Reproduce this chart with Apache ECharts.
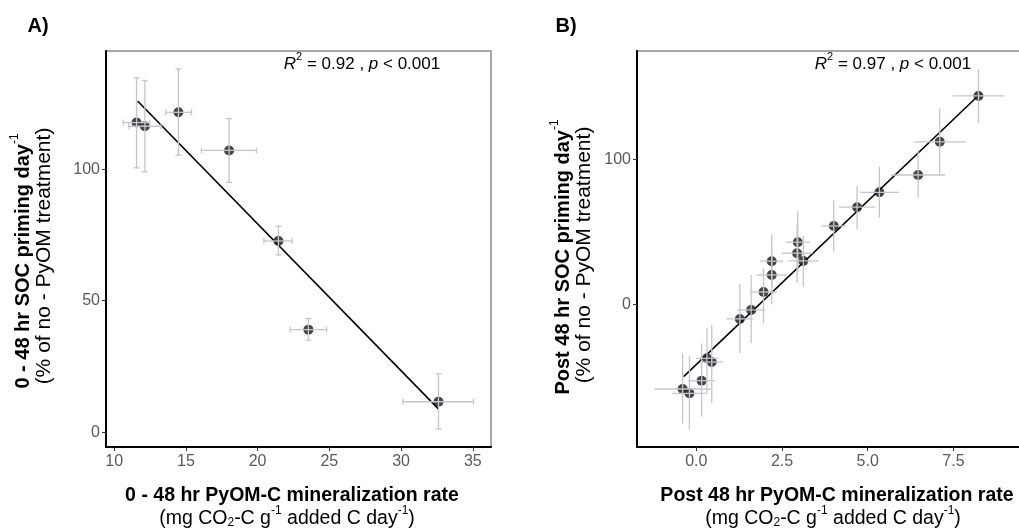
<!DOCTYPE html>
<html>
<head>
<meta charset="utf-8">
<script src="https://cdn.jsdelivr.net/npm/echarts@6/dist/echarts.min.js"></script>
<style>
html,body{margin:0;padding:0;overflow:hidden;background:#fff;}
#chart{width:1030px;height:529px;}
</style>
</head>
<body>
<div id="chart"></div>
<script>
// ---------- Panel A data ----------
const xA    = [11.56, 12.14, 14.48, 18.01, 21.45, 23.54, 32.61];
const yA    = [117.7, 116.3, 121.6, 107.1, 72.7, 39.0, 11.6];
const xLoA  = [10.63, 11.01, 13.60, 16.08, 20.44, 22.26, 30.13];
const xHiA  = [12.49, 13.27, 15.39, 19.92, 22.40, 24.81, 35.05];
const yLoA  = [100.5, 99.0, 105.3, 95.0, 67.4, 35.0, 1.3];
const yHiA  = [134.7, 133.7, 138.1, 119.2, 78.3, 43.2, 22.2];
const fitXA = [11.63, 32.6];
const fitYA = [125.9, 8.9];
const xTicksA = [10, 15, 20, 25, 30, 35];
const yTicksA = [0, 50, 100];

// ---------- Panel B data ----------
const xB    = [-0.40, -0.20, 0.155, 0.31, 0.45, 1.27, 1.60, 1.96, 2.20, 2.20, 2.94, 2.96, 3.12, 4.01, 4.69, 5.34, 6.47, 7.10, 8.23];
const yB    = [-58.4, -61.4, -52.7, -37.3, -39.8, -10.1, -3.9, 8.5, 20.2, 29.7, 35.2, 42.8, 29.9, 54.0, 66.9, 77.2, 89.1, 112.0, 143.6];
const xLoB  = [-1.22, -0.70, -0.23, -0.01, 0.12, 0.88, 1.20, 1.57, 1.76, 1.86, 2.49, 2.61, 2.68, 3.65, 4.16, 4.77, 5.68, 6.35, 7.48];
const xHiB  = [0.42, 0.30, 0.54, 0.63, 0.78, 1.66, 2.00, 2.35, 2.64, 2.54, 3.39, 3.31, 3.56, 4.37, 5.22, 5.91, 7.26, 7.85, 8.98];
const yLoB  = [-82.1, -86.5, -77.5, -61.4, -68.0, -33.8, -26.9, -13.1, 0.0, 11.0, 15.0, 22.0, 12.1, 36.3, 51.7, 59.7, 73.1, 89.2, 124.8];
const yHiB  = [-33.8, -36.0, -27.0, -16.6, -14.3, 14.0, 20.2, 24.8, 38.0, 48.3, 55.0, 64.3, 47.0, 71.9, 81.6, 94.9, 106.4, 135.2, 162.1];
const fitXB = [-0.37, 8.23];
const fitYB = [-49.9, 143.9];
const xTicksB = [0, 2.5, 5, 7.5];
const yTicksB = [0, 100];

// ---------- Text ----------
const panelLabels = ['A)', 'B)'];
const statsA = ['0.92', '0.001'];
const statsB = ['0.97', '0.001'];
const yTitleA = '0 - 48 hr SOC priming day';
const yTitleB = 'Post 48 hr SOC priming day';
const yTitle2 = '(% of no - PyOM treatment)';
const xTitleA = '0 - 48 hr PyOM-C mineralization rate';
const xTitleB = 'Post 48 hr PyOM-C mineralization rate';

const FONT = '"Liberation Sans", Arial, sans-serif';
const ERR = '#c5c5cd';

function pts(xs, ys) { return xs.map((x, i) => [x, ys[i]]); }
function errData(xs, ys, xl, xh, yl, yh) { return xs.map((x, i) => [x, ys[i], xl[i], xh[i], yl[i], yh[i]]); }

function errRender(cap) {
  return function (params, api) {
    const x = api.value(0), y = api.value(1);
    const c = api.coord([x, y]);
    const l = api.coord([api.value(2), y]);
    const r = api.coord([api.value(3), y]);
    const b = api.coord([x, api.value(4)]);
    const t = api.coord([x, api.value(5)]);
    const st = { stroke: ERR, lineWidth: 1.3 };
    const ch = [
      { type: 'line', shape: { x1: l[0], y1: c[1], x2: r[0], y2: c[1] }, style: st },
      { type: 'line', shape: { x1: c[0], y1: t[1], x2: c[0], y2: b[1] }, style: st }
    ];
    if (cap > 0) {
      ch.push({ type: 'line', shape: { x1: l[0], y1: c[1] - cap, x2: l[0], y2: c[1] + cap }, style: st });
      ch.push({ type: 'line', shape: { x1: r[0], y1: c[1] - cap, x2: r[0], y2: c[1] + cap }, style: st });
      ch.push({ type: 'line', shape: { x1: c[0] - cap, y1: t[1], x2: c[0] + cap, y2: t[1] }, style: st });
      ch.push({ type: 'line', shape: { x1: c[0] - cap, y1: b[1], x2: c[0] + cap, y2: b[1] }, style: st });
    }
    return { type: 'group', children: ch };
  };
}

function xAxisCfg(idx, min, max, ticks, fmt) {
  return {
    gridIndex: idx, type: 'value', min: min, max: max,
    axisLine: { show: true, onZero: false, lineStyle: { color: '#000', width: 2 } },
    axisTick: { show: true, customValues: ticks, length: 4, lineStyle: { color: '#333', width: 1 } },
    axisLabel: { customValues: ticks, color: '#5a5a5a', fontSize: 16, fontFamily: FONT, margin: 7, formatter: fmt },
    splitLine: { show: false }
  };
}
function yAxisCfg(idx, min, max, ticks) {
  return {
    gridIndex: idx, type: 'value', min: min, max: max,
    axisLine: { show: true, onZero: false, lineStyle: { color: '#000', width: 2 } },
    axisTick: { show: true, customValues: ticks, length: 4, lineStyle: { color: '#333', width: 1 } },
    axisLabel: { customValues: ticks, color: '#5a5a5a', fontSize: 16, fontFamily: FONT, margin: 6 },
    splitLine: { show: false }
  };
}

function mkRich(sz) {
  const lh = Math.round(sz * 1.25);
  return {
    b: { fontSize: sz, fontWeight: 'bold', fontFamily: FONT, color: '#000', lineHeight: lh, verticalAlign: 'bottom' },
    n: { fontSize: sz, fontFamily: FONT, color: '#000', lineHeight: lh, verticalAlign: 'bottom' },
    i: { fontSize: sz, fontStyle: 'italic', fontFamily: FONT, color: '#000', lineHeight: lh, verticalAlign: 'bottom' },
    sup: { fontSize: Math.round(sz * 0.62), fontFamily: FONT, color: '#000', lineHeight: Math.round(sz * 0.85), verticalAlign: 'top' },
    sub: { fontSize: Math.round(sz * 0.62), fontFamily: FONT, color: '#000', lineHeight: Math.round(sz * 0.62), verticalAlign: 'bottom' }
  };
}

function txt(x, y, text, sz, rot) {
  return {
    type: 'text', x: x, y: y, rotation: rot || 0, z: 100,
    style: { text: text, rich: mkRich(sz), align: 'center', verticalAlign: 'middle', font: sz + 'px ' + FONT }
  };
}
function label(x, y, text) {
  return { type: 'text', x: x, y: y, z: 100, style: { text: text, font: 'bold 20px ' + FONT, fill: '#000', align: 'center', verticalAlign: 'middle' } };
}
const unitLine = '{n|(mg CO}{sub|2}{n|-C g}{sup|-1}{n| added C day}{sup|-1}{n|)}';

const chart = echarts.init(document.getElementById('chart'), null, { renderer: 'canvas' });
chart.setOption({
  animation: false,
  backgroundColor: '#fff',
  grid: [
    { left: 106, top: 51, width: 385, height: 396, show: true, borderColor: '#8a8a8a', borderWidth: 1.5, backgroundColor: 'transparent' },
    { left: 637, top: 51, width: 385, height: 396, show: true, borderColor: '#8a8a8a', borderWidth: 1.5, backgroundColor: 'transparent' }
  ],
  xAxis: [
    xAxisCfg(0, 9.43, 36.27, xTicksA, v => String(v)),
    xAxisCfg(1, -1.73, 9.50, xTicksB, v => v.toFixed(1))
  ],
  yAxis: [
    yAxisCfg(0, -5.6, 144.9, yTicksA),
    yAxisCfg(1, -98.4, 174.6, yTicksB)
  ],
  series: [
    { type: 'line', xAxisIndex: 0, yAxisIndex: 0, data: pts(fitXA, fitYA), symbol: 'none', lineStyle: { color: '#000', width: 1.6 }, z: 3 },
    { type: 'scatter', xAxisIndex: 0, yAxisIndex: 0, data: pts(xA, yA), symbolSize: 10, itemStyle: { color: '#151515' }, z: 4 },
    { type: 'custom', xAxisIndex: 0, yAxisIndex: 0, data: errData(xA, yA, xLoA, xHiA, yLoA, yHiA), renderItem: errRender(3), z: 5 },
    { type: 'line', xAxisIndex: 1, yAxisIndex: 1, data: pts(fitXB, fitYB), symbol: 'none', lineStyle: { color: '#000', width: 1.6 }, z: 3 },
    { type: 'scatter', xAxisIndex: 1, yAxisIndex: 1, data: pts(xB, yB), symbolSize: 10, itemStyle: { color: '#151515' }, z: 4 },
    { type: 'custom', xAxisIndex: 1, yAxisIndex: 1, data: errData(xB, yB, xLoB, xHiB, yLoB, yHiB), renderItem: errRender(0), z: 5 }
  ],
  graphic: [
    label(38, 26, panelLabels[0]),
    label(566, 26, panelLabels[1]),
    txt(362, 62, '{i|R}{sup|2}{n| = ' + statsA[0] + ' , }{i|p}{n| < ' + statsA[1] + '}', 17),
    txt(893, 62, '{i|R}{sup|2}{n| = ' + statsB[0] + ' , }{i|p}{n| < ' + statsB[1] + '}', 17),
    txt(21, 261, '{b|' + yTitleA + '}{sup|-1}', 20, Math.PI / 2),
    txt(42, 256, '{n|' + yTitle2 + '}', 21, Math.PI / 2),
    txt(561, 257, '{b|' + yTitleB + '}{sup|-1}', 20, Math.PI / 2),
    txt(582, 255, '{n|' + yTitle2 + '}', 21, Math.PI / 2),
    txt(292, 494, '{b|' + xTitleA + '}', 19.5),
    txt(287, 517, unitLine, 19.5),
    txt(837, 494, '{b|' + xTitleB + '}', 19.5),
    txt(833, 517, unitLine, 19.5)
  ]
});
</script>
</body>
</html>
